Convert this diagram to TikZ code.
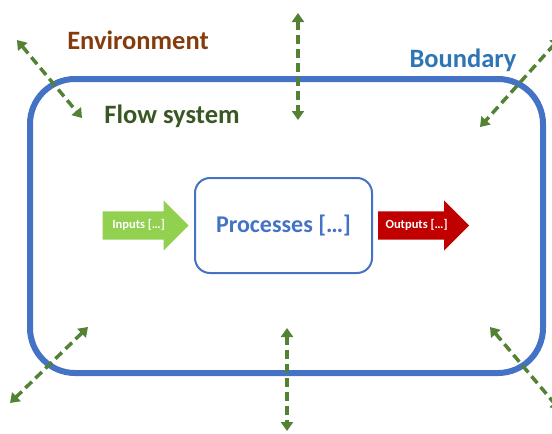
\documentclass[tikz,border=0pt]{standalone}
\usepackage{fontspec}
\setmainfont{Carlito}
\usetikzlibrary{arrows.meta,positioning,shapes.arrows}
\definecolor{sysBlue}{HTML}{4472C4}
\definecolor{bndBlue}{HTML}{2E75B6}
\definecolor{envBrown}{HTML}{843C0C}
\definecolor{flowGreen}{HTML}{385723}
\definecolor{dashGreen}{HTML}{548235}
\definecolor{inGreen}{HTML}{92D050}
\definecolor{outRed}{HTML}{C00000}

\begin{document}
\begin{tikzpicture}[x=1pt, y=-1pt, >={Triangle[length=9pt,width=12pt]},
  exchange/.style={<->, dashGreen, line width=3.5pt, dash pattern=on 9pt off 5pt},
  flowarrow/.style={single arrow, single arrow head extend=11pt, inner xsep=4pt,
    inner ysep=8pt, text height=9pt, text depth=3pt, text=white,
    font=\fontsize{12.5}{13}\selectfont\bfseries}]
\clip (0,0) rectangle (552,434);
% ---------- system and process ----------
\node[draw=sysBlue, line width=6pt, rounded corners=45pt,
      minimum width=513pt, minimum height=294pt] (boundary) at (286.5,226) {};
\node[draw=sysBlue, line width=2pt, rounded corners=15pt, text=sysBlue,
      minimum width=177pt, minimum height=95pt,
      font=\fontsize{24}{26}\selectfont\bfseries] (processes) at (283.5,225.5) {Processes [\dots]};
\node[flowarrow, fill=inGreen, minimum height=86pt, left=5pt of processes] (inputs) {Inputs [\dots]};
\node[flowarrow, fill=outRed, minimum height=91pt, right=5pt of processes] (outputs) {Outputs [\dots]};
% ---------- labels ----------
\node[envBrown, font=\fontsize{26.5}{28}\selectfont\bfseries] (env) at (138,40) {Environment};
\node[bndBlue, font=\fontsize{26.5}{28}\selectfont\bfseries] (bnd) at (463,60) {Boundary};
\node[flowGreen, font=\fontsize{26.5}{28}\selectfont\bfseries] (flow) at (172,116) {Flow system};
% ---------- exchanges across the boundary ----------
\coordinate (tlA) at (17,40);   \coordinate (tlB) at (82,118);
\coordinate (tcA) at (298,13);  \coordinate (tcB) at (298,120);
\coordinate (trA) at (560,38);  \coordinate (trB) at (480,127);
\coordinate (blA) at (88,327);  \coordinate (blB) at (10,403);
\coordinate (bcA) at (287,328); \coordinate (bcB) at (287,431);
\coordinate (brA) at (490,327); \coordinate (brB) at (560,410);
\foreach \a/\b in {tlA/tlB,tcA/tcB,trA/trB,blA/blB,bcA/bcB,brA/brB}
  \draw[exchange] (\a) -- (\b);
\end{tikzpicture}
\end{document}
